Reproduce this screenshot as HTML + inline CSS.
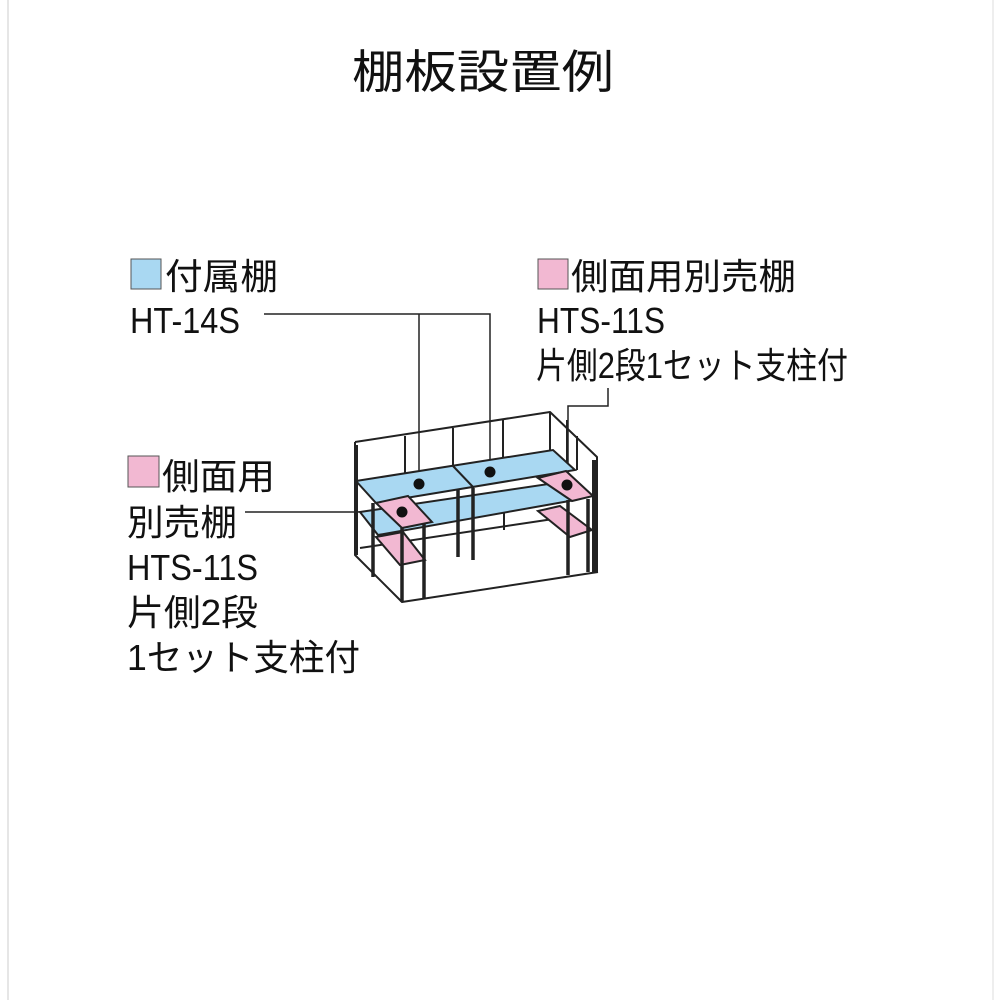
<!DOCTYPE html>
<html><head><meta charset="utf-8"><style>
body{margin:0;background:#fff}
svg{display:block}
text{font-family:"Liberation Sans","Noto Sans CJK JP",sans-serif;fill:#111}
</style></head><body>
<svg width="1000" height="1000" viewBox="0 0 1000 1000" xmlns="http://www.w3.org/2000/svg">
<line x1="8" y1="0" x2="8" y2="1000" stroke="#e6e6e6" stroke-width="2"/>
<line x1="993" y1="0" x2="993" y2="1000" stroke="#eee" stroke-width="2"/>
<text x="352" y="88" font-size="46" textLength="262" lengthAdjust="spacingAndGlyphs">棚板設置例</text>

<rect x="131" y="259" width="30" height="30" fill="#a9d8f2" stroke="#555" stroke-width="1"/>
<text x="165" y="289" font-size="36" textLength="113" lengthAdjust="spacingAndGlyphs">付属棚</text>
<text x="130" y="333" font-size="36" textLength="110" lengthAdjust="spacingAndGlyphs">HT-14S</text>
<rect x="538" y="259" width="30" height="30" fill="#f2b8d2" stroke="#555" stroke-width="1"/>
<text x="571" y="289" font-size="36" textLength="225" lengthAdjust="spacingAndGlyphs">側面用別売棚</text>
<text x="537" y="333" font-size="36" textLength="128" lengthAdjust="spacingAndGlyphs">HTS-11S</text>
<text x="536" y="378" font-size="36" textLength="312" lengthAdjust="spacingAndGlyphs">片側2段1セット支柱付</text>
<rect x="128" y="456" width="31" height="31" fill="#f2b8d2" stroke="#555" stroke-width="1"/>
<text x="162" y="489" font-size="36" textLength="113" lengthAdjust="spacingAndGlyphs">側面用</text>
<text x="127" y="535" font-size="36" textLength="110" lengthAdjust="spacingAndGlyphs">別売棚</text>
<text x="127" y="580" font-size="36" textLength="131" lengthAdjust="spacingAndGlyphs">HTS-11S</text>
<text x="127" y="625" font-size="36" textLength="131" lengthAdjust="spacingAndGlyphs">片側2段</text>
<text x="127" y="670" font-size="36" textLength="233" lengthAdjust="spacingAndGlyphs">1セット支柱付</text>

<g stroke="#222" stroke-width="1.5" fill="none">
<polyline points="264,314 490,314 490,472"/>
<line x1="419" y1="314" x2="419" y2="484"/>
<polyline points="608,388 608,406 568,406 568,485"/>
<line x1="245" y1="512" x2="402" y2="512"/>
</g>

<g stroke="#222" stroke-width="2" fill="none" stroke-linejoin="round">
<polyline points="355,442 550,412 597,457 597,572"/>
<polyline points="355,442 355,555 402,602 598,572"/>
<line x1="405" y1="436" x2="405" y2="480"/>
<line x1="453" y1="428" x2="453" y2="470"/>
<line x1="503" y1="420" x2="503" y2="460"/>
<line x1="504" y1="490" x2="504" y2="530"/>
<line x1="550" y1="412" x2="550" y2="455"/>
<line x1="567" y1="420" x2="567" y2="470"/>
<line x1="577" y1="436" x2="577" y2="470"/>
<line x1="360" y1="548" x2="560" y2="518"/>
</g>
<g stroke="#222" stroke-width="4">
<line x1="356" y1="445" x2="356" y2="555"/>
<line x1="594" y1="460" x2="594" y2="572"/>
</g>
<polygon points="360,512 555,483 575,500 378,535" fill="#a9d8f2" stroke="#222" stroke-width="2"/>
<polygon points="356,481 553,450 575,470 376,503" fill="#a9d8f2" stroke="#222" stroke-width="2"/>
<line x1="453" y1="466" x2="474" y2="488" stroke="#222" stroke-width="2"/>
<g stroke="#222" stroke-width="3.5">
<line x1="373" y1="503" x2="373" y2="577"/>
<line x1="458" y1="490" x2="458" y2="557"/>
<line x1="473" y1="488" x2="473" y2="560"/>
</g>
<polygon points="376,537 403,532 425,560 400,565" fill="#f2b8d2" stroke="#222" stroke-width="2"/>
<polygon points="538,511 560,506 592,530 570,537" fill="#f2b8d2" stroke="#222" stroke-width="2"/>
<polygon points="376,503 408,496 432,522 402,528" fill="#f2b8d2" stroke="#222" stroke-width="2"/>
<polygon points="538,478 566,471 593,496 572,501" fill="#f2b8d2" stroke="#222" stroke-width="2"/>
<g stroke="#222" stroke-width="3.5">
<line x1="402" y1="528" x2="402" y2="602"/>
<line x1="424" y1="524" x2="424" y2="598"/>
<line x1="568" y1="500" x2="568" y2="575"/>
<line x1="588" y1="499" x2="588" y2="572"/>
</g>
<g fill="#111">
<circle cx="419" cy="484" r="5.5"/>
<circle cx="490" cy="472" r="5.5"/>
<circle cx="567" cy="485" r="5.5"/>
<circle cx="402" cy="512" r="5.5"/>
</g>
</svg>
</body></html>
